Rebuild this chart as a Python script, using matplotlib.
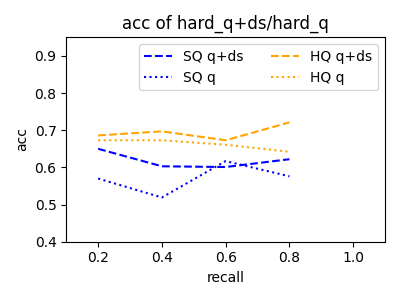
import matplotlib
matplotlib.use("Agg")
import matplotlib.pyplot as plt

recall = [0.2, 0.4, 0.6, 0.8]
sq_qds = [0.650, 0.603, 0.601, 0.622]
sq_q = [0.570, 0.519, 0.617, 0.576]
hq_qds = [0.686, 0.697, 0.673, 0.721]
hq_q = [0.673, 0.673, 0.661, 0.642]

fig, ax = plt.subplots(figsize=(4, 3), dpi=100)
ax.plot(recall, sq_qds, color='blue', linestyle='--', label='SQ q+ds')
ax.plot(recall, sq_q, color='blue', linestyle=':', label='SQ q')
ax.plot(recall, hq_qds, color='orange', linestyle='--', label='HQ q+ds')
ax.plot(recall, hq_q, color='orange', linestyle=':', label='HQ q')
ax.set_xlim(0.1, 1.1)
ax.set_ylim(0.4, 0.95)
ax.set_xticks([0.2, 0.4, 0.6, 0.8, 1.0])
ax.set_yticks([0.4, 0.5, 0.6, 0.7, 0.8, 0.9])
ax.set_xlabel("recall")
ax.set_ylabel("acc")
ax.set_title("acc of hard_q+ds/hard_q")
ax.legend(ncol=2, loc='upper right')
fig.tight_layout()
fig.savefig("out.png")
